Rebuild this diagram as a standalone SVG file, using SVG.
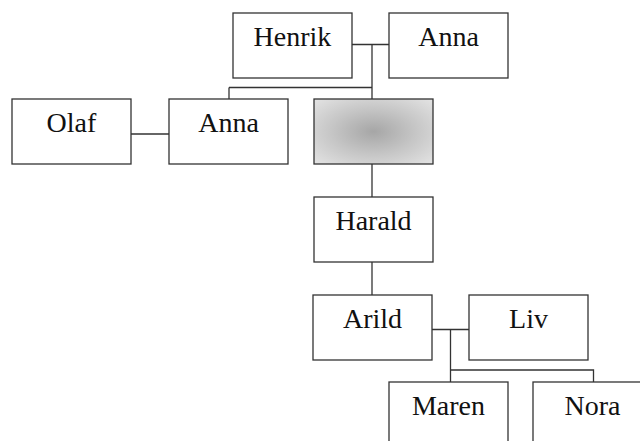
<svg xmlns="http://www.w3.org/2000/svg" width="640" height="441" viewBox="0 0 640 441">
<style>
.box{fill:#fff;stroke:#333;stroke-width:1.3}
.lbl{font-family:"Times New Roman","Liberation Serif",serif;font-size:28px;fill:#111;text-anchor:middle}
.con{fill:none;stroke:#333;stroke-width:1.3}
</style>
<defs>
<radialGradient id="g" cx="50%" cy="50%" r="71%">
<stop offset="0" stop-color="#a6a6a6"/>
<stop offset="0.5" stop-color="#c6c6c6"/>
<stop offset="1" stop-color="#e4e4e4"/>
</radialGradient>
</defs>
<rect width="640" height="441" fill="#fff"/>
<g id="connectors">
<path class="con" d="M352 44.5H389"/>
<path class="con" d="M372 44.5V99"/>
<path class="con" d="M229 87.5H372"/>
<path class="con" d="M229 87.5V99"/>
<path class="con" d="M131 134H169"/>
<path class="con" d="M372 164V197"/>
<path class="con" d="M372 262V295"/>
<path class="con" d="M432 329.5H469"/>
<path class="con" d="M450.5 329.5V382"/>
<path class="con" d="M450.5 370H593.5V382"/>
</g>
<g id="henrik"><rect class="box" x="233" y="13" width="119" height="65"/><text class="lbl" x="292.5" y="46">Henrik</text></g>
<g id="anna1"><rect class="box" x="389" y="13" width="119" height="65"/><text class="lbl" x="448.5" y="46">Anna</text></g>
<g id="olaf"><rect class="box" x="12" y="99" width="119" height="65"/><text class="lbl" x="71.5" y="132">Olaf</text></g>
<g id="anna2"><rect class="box" x="169" y="99" width="119" height="65"/><text class="lbl" x="228.5" y="132">Anna</text></g>
<g id="unknown"><rect x="314" y="99" width="119" height="65" fill="url(#g)" stroke="#333" stroke-width="1.3"/></g>
<g id="harald"><rect class="box" x="314" y="197" width="119" height="65"/><text class="lbl" x="373.5" y="230">Harald</text></g>
<g id="arild"><rect class="box" x="313" y="295" width="119" height="65"/><text class="lbl" x="372.5" y="328">Arild</text></g>
<g id="liv"><rect class="box" x="469" y="295" width="119" height="65"/><text class="lbl" x="528.5" y="328">Liv</text></g>
<g id="maren"><rect class="box" x="389" y="382" width="119" height="65"/><text class="lbl" x="448.5" y="415">Maren</text></g>
<g id="nora"><rect class="box" x="533" y="382" width="119" height="65"/><text class="lbl" x="592.5" y="415">Nora</text></g>
</svg>
